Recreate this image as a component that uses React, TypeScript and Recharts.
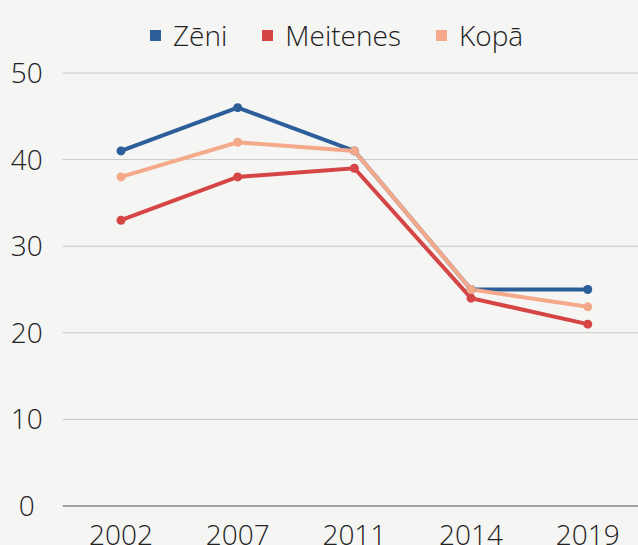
import { LineChart, Line, XAxis, YAxis, CartesianGrid, Legend } from "recharts";

// ─── Data ────────────────────────────────────────────────────────────────────

const years = ["2002", "2007", "2011", "2014", "2019"];
const zeni = [41, 46, 41, 25, 25];
const meitenes = [33, 38, 39, 24, 21];
const kopa = [38, 42, 41, 25, 23];
const yTicks = [0, 10, 20, 30, 40, 50];

const SERIES = [
  { key: "zeni", name: "Zēni", color: "#2c5e99" },
  { key: "meitenes", name: "Meitenes", color: "#d64545" },
  { key: "kopa", name: "Kopā", color: "#f5a98b" },
];

const FONT = "'Open Sans', 'Noto Sans', sans-serif";

const rows = years.map((year, i) => ({
  year,
  zeni: zeni[i],
  meitenes: meitenes[i],
  kopa: kopa[i],
}));

// Legend: square swatch + label, laid out in one row
function LegendRow() {
  return (
    <div style={{ display: "flex", alignItems: "center", gap: 35 }}>
      {SERIES.map((s) => (
        <div key={s.key} style={{ display: "flex", alignItems: "center" }}>
          <span
            style={{
              width: 11,
              height: 11,
              background: s.color,
              display: "inline-block",
              marginRight: 12,
            }}
          />
          <span
            style={{
              fontFamily: FONT,
              fontSize: 28,
              fontWeight: 300,
              color: "#222",
              lineHeight: "34px",
            }}
          >
            {s.name}
          </span>
        </div>
      ))}
    </div>
  );
}

export default function App() {
  const tickStyle = {
    fontFamily: FONT,
    fontSize: 28,
    fontWeight: 300,
    fill: "#222",
  };

  return (
    <div
      style={{
        position: "absolute",
        top: 0,
        left: 0,
        width: 638,
        height: 545,
        overflow: "hidden",
        background: "#f5f5f3",
      }}
    >
      <LineChart
        width={646}
        height={560}
        data={rows}
        margin={{ top: 73, right: 0, left: 0, bottom: 14 }}
      >
        <CartesianGrid vertical={false} stroke="#c8c8c8" />
        <XAxis
          dataKey="year"
          axisLine={{ stroke: "#666" }}
          tickLine={false}
          tickSize={0}
          tickMargin={19}
          height={40}
          padding={{ left: 58.25, right: 58.25 }}
          tick={tickStyle}
        />
        <YAxis
          domain={[0, 50]}
          ticks={yTicks}
          axisLine={false}
          tickLine={false}
          tickSize={0}
          tickMargin={36}
          width={62.75}
          tick={{ ...tickStyle, textAnchor: "middle" }}
        />
        <Legend
          verticalAlign="middle"
          align="center"
          wrapperStyle={{ top: 18, left: 150, width: "auto" }}
          content={() => <LegendRow />}
        />
        {SERIES.map((s) => (
          <Line
            key={s.key}
            type="linear"
            dataKey={s.key}
            name={s.name}
            stroke={s.color}
            strokeWidth={4}
            dot={{ r: 4.5, fill: s.color, stroke: s.color, strokeWidth: 0 }}
            isAnimationActive={false}
          />
        ))}
      </LineChart>
    </div>
  );
}
